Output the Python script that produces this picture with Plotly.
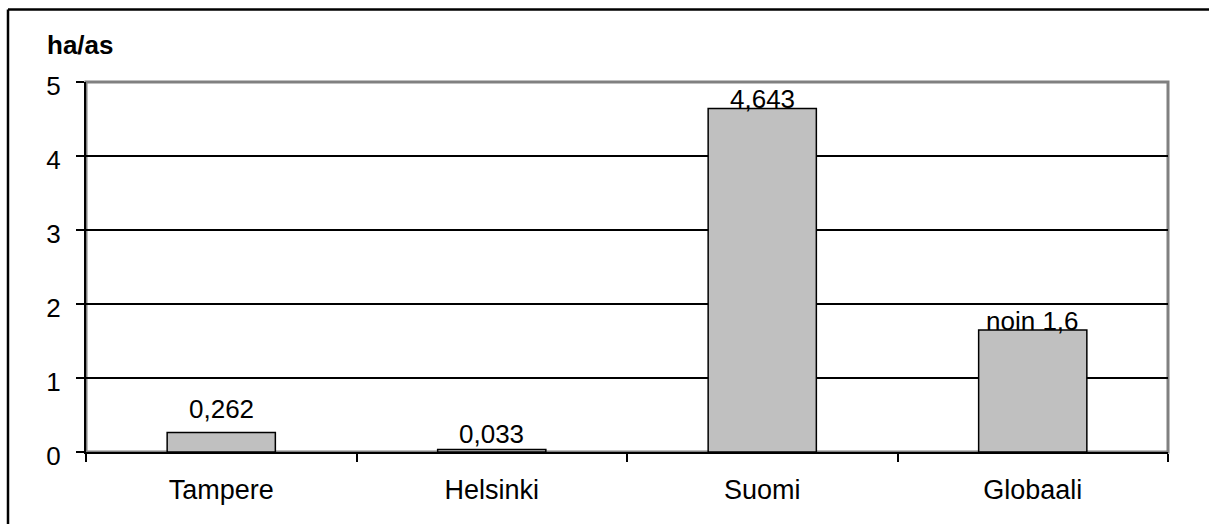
import plotly.graph_objects as go

categories = ["Tampere", "Helsinki", "Suomi", "Globaali"]
values = [0.262, 0.033, 4.643, 1.65]
value_labels = ["0,262", "0,033", "4,643", "noin 1,6"]
y_tick_vals = [0, 1, 2, 3, 4, 5]
y_tick_text = ["0", "1", "2", "3", "4", "5"]
unit_label = "ha/as"

label_shift = [24, 16, 9, 9]

FONT = "Liberation Sans, Arial, sans-serif"
PW, PH, L, T = 1082, 370, 86, 82

def px(x):
    return (x - L) / PW

def py(y):
    return (T + PH - y) / PH

fig = go.Figure()
fig.add_trace(go.Bar(
    x=categories, y=values,
    marker=dict(color="#c0c0c0", line=dict(color="black", width=1.5)),
    width=0.4,
    hoverinfo="skip",
))

for c, v, t, s in zip(categories, values, value_labels, label_shift):
    fig.add_annotation(x=c, y=v, text=t, showarrow=False, xref="x", yref="y",
                       yanchor="middle", yshift=s,
                       font=dict(family=FONT, size=26, color="black"))

fig.add_annotation(x=px(80), y=py(45), xref="paper", yref="paper",
                   text="<b>" + unit_label + "</b>", showarrow=False,
                   xanchor="center", yanchor="middle",
                   font=dict(family=FONT, size=26, color="black"))

# plot-area border (gray)
fig.add_shape(type="rect", xref="paper", yref="paper", x0=0, x1=1, y0=0, y1=1,
              line=dict(color="#808080", width=3), layer="below")
# outer chart border: top and left edges (others lie outside the image)
fig.add_shape(type="line", xref="paper", yref="paper",
              x0=px(8), x1=px(1209), y0=py(9.5), y1=py(9.5),
              line=dict(color="black", width=2.5))
fig.add_shape(type="line", xref="paper", yref="paper",
              x0=px(8), x1=px(8), y0=py(9.5), y1=py(524),
              line=dict(color="black", width=2.5))

fig.update_layout(
    width=1209, height=524,
    margin=dict(l=L, r=1209 - L - PW, t=T, b=524 - T - PH),
    paper_bgcolor="white", plot_bgcolor="white",
    showlegend=False,
    bargap=0.6,
    font=dict(family=FONT, size=26, color="black"),
    xaxis=dict(
        type="category", tickson="boundaries", ticks="outside", ticklen=8,
        tickwidth=2, tickcolor="black", ticklabelstandoff=13,
        showline=True, linecolor="black", linewidth=2,
        showgrid=False, tickfont=dict(family=FONT, size=27, color="black"),
        fixedrange=True,
    ),
    yaxis=dict(
        range=[0, 5], tickvals=y_tick_vals, ticktext=y_tick_text,
        ticks="outside", ticklen=8, tickwidth=2, tickcolor="black",
        ticklabelstandoff=10, ticklabelshift=4,
        showline=True, linecolor="black", linewidth=2,
        showgrid=True, gridcolor="black", gridwidth=2,
        zeroline=False,
        tickfont=dict(family=FONT, size=26, color="black"),
        fixedrange=True,
    ),
)

fig.write_html("out.html")
